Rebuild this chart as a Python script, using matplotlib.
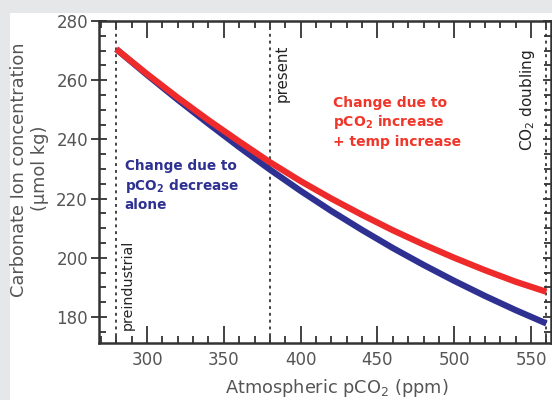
import numpy as np
from matplotlib import pyplot as plt
from matplotlib.patches import Rectangle
from matplotlib.ticker import MultipleLocator

pco2 = [280, 300, 320, 340, 360, 380, 400, 420, 440, 460, 480, 500, 520, 540, 560]
co3_temp = [270.5, 262.1, 254.1, 246.5, 239.3, 232.3, 225.9, 220.0, 214.5, 209.3, 204.5, 200.0, 195.8, 191.9, 188.5]
co3_pco2 = [270.5, 261.8, 253.4, 245.3, 237.4, 229.8, 222.6, 215.8, 209.4, 203.3, 197.6, 192.2, 187.1, 182.3, 177.8]

marker_x = [280, 380, 560]
marker_labels = ["preindustrial", "present", r"CO$_2$ doubling"]

red = "#ee2a2a"
blue = "#2e3192"
grey_txt = "#555555"

fig = plt.figure(figsize=(5.52, 4.0), dpi=100)
fig.patch.set_facecolor("#e6e7e9")
# white card behind the plot
fig.patches.append(Rectangle((10 / 552, 0), 1, 387 / 400, transform=fig.transFigure,
                             facecolor="white", edgecolor="none", zorder=-5))

ax = fig.add_axes([99 / 552, 57 / 400, 452 / 552, 322 / 400])
ax.set_zorder(2)
ax.set_facecolor("white")

for xv in marker_x:
    ax.axvline(xv, color="#444444", lw=1.4, ls=(0, (1.5, 2)), zorder=1)

ax.plot(pco2, co3_pco2, color=blue, lw=4.5, solid_capstyle="butt", zorder=2)
ax.plot(pco2, co3_temp, color=red, lw=4.5, solid_capstyle="butt", zorder=3)

# labels on the dotted lines
ax.text(287.5, 175.5, marker_labels[0], rotation=90, ha="center", va="bottom",
        fontsize=10.3, color="#222222")
ax.text(388, 272, marker_labels[1], rotation=90, ha="center", va="top",
        fontsize=10.8, color="#222222")
ax.text(547.5, 270.5, marker_labels[2], rotation=90, ha="center", va="top",
        fontsize=11, color="#222222")

ax.text(285.5, 233.5, "Change due to\n" + r"pCO$_\mathbf{2}$ decrease" + "\nalone",
        color=blue, fontsize=9.8, fontweight="bold", ha="left", va="top", linespacing=1.3)
ax.text(421, 254.8, "Change due to\n" + r"pCO$_\mathbf{2}$ increase" + "\n+ temp increase",
        color="#f0362a", fontsize=10, fontweight="bold", ha="left", va="top", linespacing=1.3)

ax.set_xlim(268.75, 563)
ax.set_ylim(171.2, 280)
ax.xaxis.set_major_locator(MultipleLocator(50))
ax.xaxis.set_minor_locator(MultipleLocator(10))
ax.yaxis.set_major_locator(MultipleLocator(20))
ax.yaxis.set_minor_locator(MultipleLocator(5))

ax.tick_params(axis="x", which="both", direction="in", top=True, colors="#333333",
               labelcolor=grey_txt, labelsize=12, width=1.3)
ax.tick_params(axis="x", which="major", length=12, pad=6)
ax.tick_params(axis="x", which="minor", length=5)
ax.tick_params(axis="y", which="both", right=True, colors="#333333",
               labelcolor=grey_txt, labelsize=12, width=1.3)
ax.tick_params(axis="y", which="major", direction="inout", length=12, pad=2)
ax.tick_params(axis="y", which="minor", direction="in", length=5)

for s in ax.spines.values():
    s.set_linewidth(1.8)
    s.set_color("#333333")

fig.text(337 / 552, 0.03, r"Atmospheric pCO$_2$ (ppm)", ha="center", va="center",
         fontsize=12.8, color=grey_txt)
fig.text(19 / 552, 0.575, "Carbonate Ion concentration", rotation=90, ha="center",
         va="center", fontsize=12.8, color=grey_txt)
fig.text(40 / 552, 0.58, "(µmol kg)", rotation=90, ha="center", va="center",
         fontsize=12.8, color=grey_txt)

fig.savefig("out.png", dpi=100, facecolor=fig.get_facecolor())
